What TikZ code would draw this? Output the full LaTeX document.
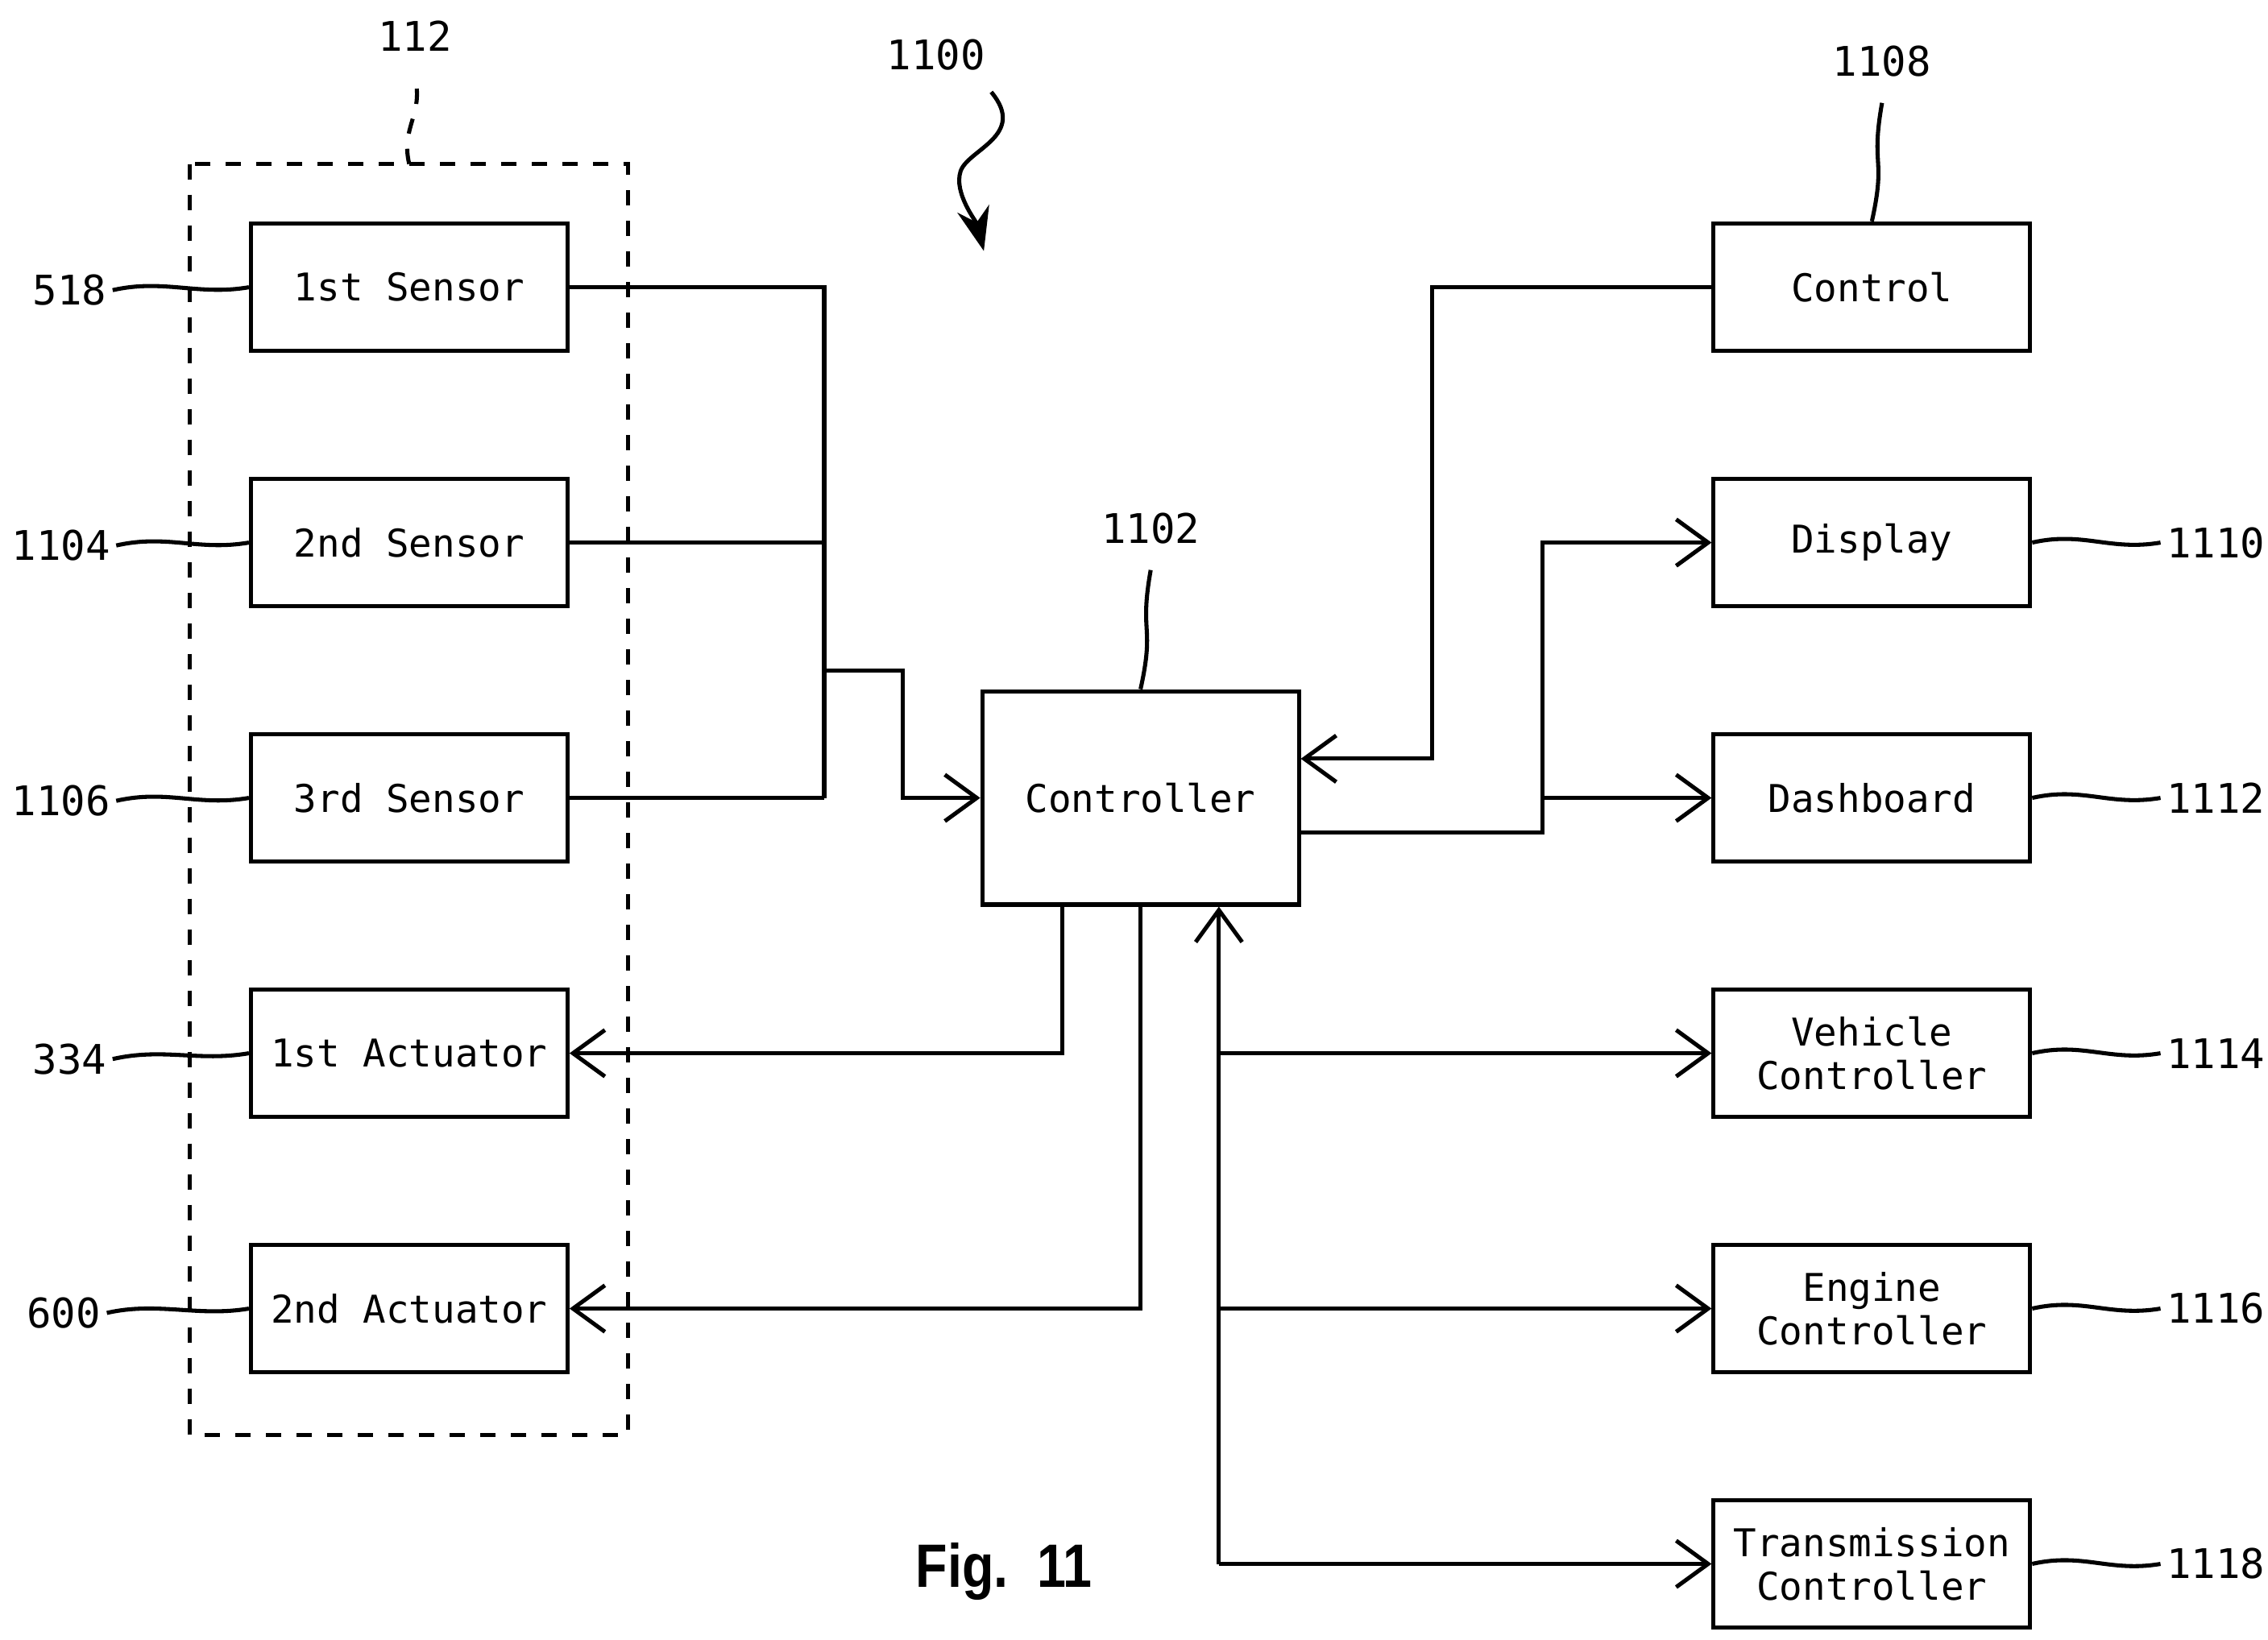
\documentclass[tikz,border=0pt]{standalone}
\usepackage{fontspec}
\setmainfont{DejaVu Sans Mono}
\newfontfamily\figfont{Liberation Sans}
\usetikzlibrary{arrows.meta}
\tikzset{
  blk/.style={draw, thick, minimum width=2.18cm, minimum height=0.88cm, align=center,
    font=\fontsize{7.5}{8.5}\selectfont, inner sep=1pt},
  num/.style={font=\fontsize{8}{9}\selectfont, inner sep=1pt},
  conn/.style={thick, -{Straight Barb[length=2.2mm, width=3.2mm]}},
  wire/.style={thick},
  hlead/.style={thick, to path={.. controls +(35,-8) and +(-35,6) .. (\tikztotarget)}},
  vlead/.style={thick, to path={.. controls +(10,-45) and +(-8,45) .. (\tikztotarget)}}
}
\begin{document}
\begin{tikzpicture}[x=0.01cm, y=-0.01cm]
  \useasboundingbox (0,0) rectangle (1563,1130);
  % sensor / actuator group
  \draw[thick, dashed] (131,113) rectangle (433,989);
  \node[blk] (s1) at (282,198) {1st Sensor};
  \node[blk] (s2) at (282,374) {2nd Sensor};
  \node[blk] (s3) at (282,550) {3rd Sensor};
  \node[blk] (a1) at (282,726) {1st Actuator};
  \node[blk] (a2) at (282,902) {2nd Actuator};
  \node[blk, minimum height=1.47cm] (ctl) at (786,550) {Controller};
  \node[blk] (cin) at (1290,198) {Control};
  \node[blk] (disp) at (1290,374) {Display};
  \node[blk] (dash) at (1290,550) {Dashboard};
  \node[blk] (vc) at (1290,726) {Vehicle\\Controller};
  \node[blk] (ec) at (1290,902) {Engine\\Controller};
  \node[blk] (tc) at (1290,1078) {Transmission\\Controller};
  % reference numerals
  \node[num] (n518) at (48,200) {518};
  \node[num] (n1104) at (42,376) {1104};
  \node[num] (n1106) at (42,552) {1106};
  \node[num] (n334) at (48,730) {334};
  \node[num] (n600) at (44,905) {600};
  \node[num] (n1110) at (1527,374) {1110};
  \node[num] (n1112) at (1527,550) {1112};
  \node[num] (n1114) at (1527,726) {1114};
  \node[num] (n1116) at (1527,902) {1116};
  \node[num] (n1118) at (1527,1078) {1118};
  \node[num] (n1108) at (1297,42) {1108};
  \node[num] (n1102) at (793,364) {1102};
  \node[num] (n112) at (286,25) {112};
  \node[num] (n1100) at (645,38) {1100};
  \node[font=\figfont\bfseries\fontsize{12}{13}\selectfont, xscale=0.85] (fig) at (692,1083) {Fig.\ \ 11};
  \foreach \n/\b in {n518/s1, n1104/s2, n1106/s3, n334/a1, n600/a2}
    \draw[hlead] (\n.east) to (\b.west);
  \foreach \b/\n in {disp/n1110, dash/n1112, vc/n1114, ec/n1116, tc/n1118}
    \draw[hlead] (\b.east) to (\n.west);
  \draw[vlead] (cin.north) to ([yshift=-4pt]n1108.south);
  \draw[vlead] (ctl.north) to ([yshift=-4pt]n1102.south);
  \draw[thick, dashed] (282,113) .. controls +(-6,-25) and +(6,25) .. ([yshift=-4pt]n112.south);
  \coordinate (z) at (678,173);
  \draw[thick, -{Stealth[length=3mm]}] ([yshift=-3pt]n1100.south east)
    .. controls +(25,30) and +(5,-15) .. (662,118) .. controls +(-5,15) and +(-5,-20) .. (z);
  % inputs
  \coordinate (bus) at (568,462);
  \draw[wire] (s1.east) -| (568,550);
  \draw[wire] (s2.east) -- (568,374);
  \draw[wire] (s3.east) -- (568,550);
  \draw[conn] (bus) -- (622,462) |- (ctl.west);
  \draw[conn] (cin.west) -| (987,523) -- (ctl.east |- 0,523);
  \coordinate (out) at (ctl.east |- 0,574);
  \draw[conn] (out) -| (1063,374) -- (disp.west);
  \draw[conn] (1063,550) -- (dash.west);
  % actuators
  \draw[conn] (ctl.south -| 732,0) |- (a1.east);
  \draw[conn] (ctl.south) |- (a2.east);
  % vehicle bus
  \coordinate (vb) at (840,1078);
  \draw[conn] (vb) -- (ctl.south -| 840,0);
  \draw[conn] (840,726) -- (vc.west);
  \draw[conn] (840,902) -- (ec.west);
  \draw[conn] (vb) -- (tc.west);
\end{tikzpicture}
\end{document}
